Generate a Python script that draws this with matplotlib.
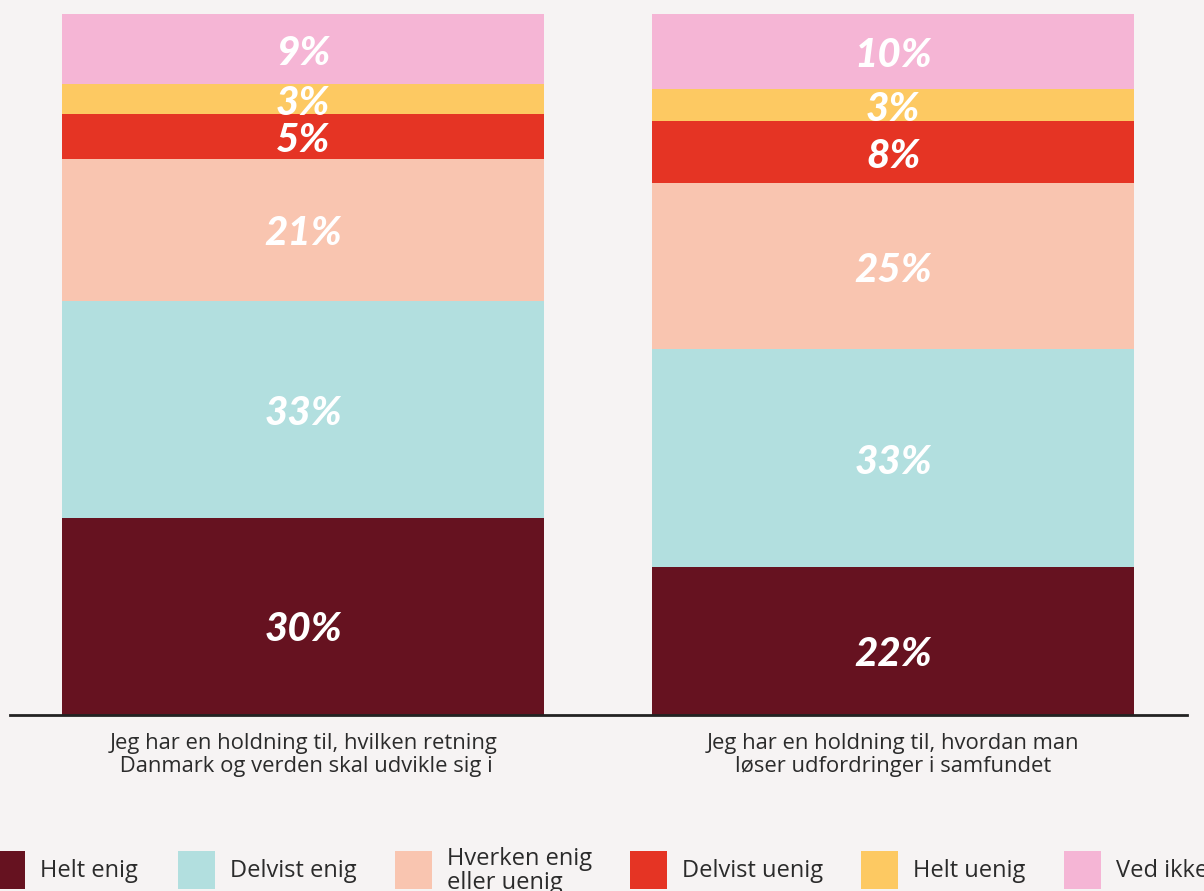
"""Holdninger til samfundets retning - stablede søjler."""
import matplotlib.pyplot as plt
from matplotlib.patches import Rectangle

# Data
QUESTIONS = [
    "Jeg har en holdning til, hvilken retning\n Danmark og verden skal udvikle sig i",
    "Jeg har en holdning til, hvordan man\nløser udfordringer i samfundet",
]
ANSWERS = ["Helt enig", "Delvist enig", "Hverken enig\neller uenig",
           "Delvist uenig", "Helt uenig", "Ved ikke"]
# søjlehøjder (andel af søjlen) og de viste procenttal
SHARE_Q1 = [28.1, 31.0, 20.2, 6.4, 4.3, 10.0]
SHARE_Q2 = [21.1, 31.1, 23.7, 8.8, 4.6, 10.7]
LABEL_Q1 = [30, 33, 21, 5, 3, 9]
LABEL_Q2 = [22, 33, 25, 8, 3, 10]

COLORS = ["#661220", "#b2dfdf", "#f9c5b0", "#e53424", "#fdc962", "#f5b5d5"]
BG = "#f6f3f3"
TEXT = "#2b2b2b"
W, H = 1204, 891
PX = 100 / 701  # en pixel i y-data-enheder

fig = plt.figure(figsize=(W / 100, H / 100), dpi=100, facecolor=BG)
ax = fig.add_axes([10 / W, 1 - 715 / H, 1177 / W, 701 / H])
ax.set_facecolor(BG)

shares = [SHARE_Q1, SHARE_Q2]
labels = [LABEL_Q1, LABEL_Q2]
for i in range(len(QUESTIONS)):
    bottom = 0
    for j, val in enumerate(shares[i]):
        ax.bar(i, val, bottom=bottom, width=0.817, color=COLORS[j], linewidth=0)
        # tallene sidder en anelse under midten, mest i nederste felt
        shift = (4 + (9 if j == 0 else 0)) * PX
        ax.text(i, bottom + val / 2 - shift, f"{labels[i][j]}%", ha="center",
                va="center", color="white", fontsize=29, fontweight=900,
                style="italic", family=["Lato", "DejaVu Sans"])
        bottom += val

ax.set_xlim(-0.497, 1.498)
ax.set_ylim(0, 100)
for side in ["top", "right", "left"]:
    ax.spines[side].set_visible(False)
ax.spines["bottom"].set_color("#222222")
ax.spines["bottom"].set_linewidth(2)
ax.set_yticks([])
ax.set_xticks(range(len(QUESTIONS)))
ax.set_xticklabels(QUESTIONS, fontsize=15.8, color=TEXT, family="Open Sans",
                   linespacing=1.15)
ax.tick_params(axis="x", length=0, pad=13)

# forklaring nederst, bevidst skåret af i kanterne som i originalen
patch_x = [-12, 178, 395, 630, 861, 1064]
for k, name in enumerate(ANSWERS):
    fig.add_artist(Rectangle((patch_x[k] / W, 1 - 889 / H), 37 / W, 38 / H,
                             transform=fig.transFigure, color=COLORS[k], lw=0))
    fig.text((patch_x[k] + 52) / W, 1 - 871 / H, name, fontsize=17, color=TEXT,
             family="Open Sans", va="center", linespacing=0.95)

fig.savefig("out.png", dpi=100, facecolor=BG)
